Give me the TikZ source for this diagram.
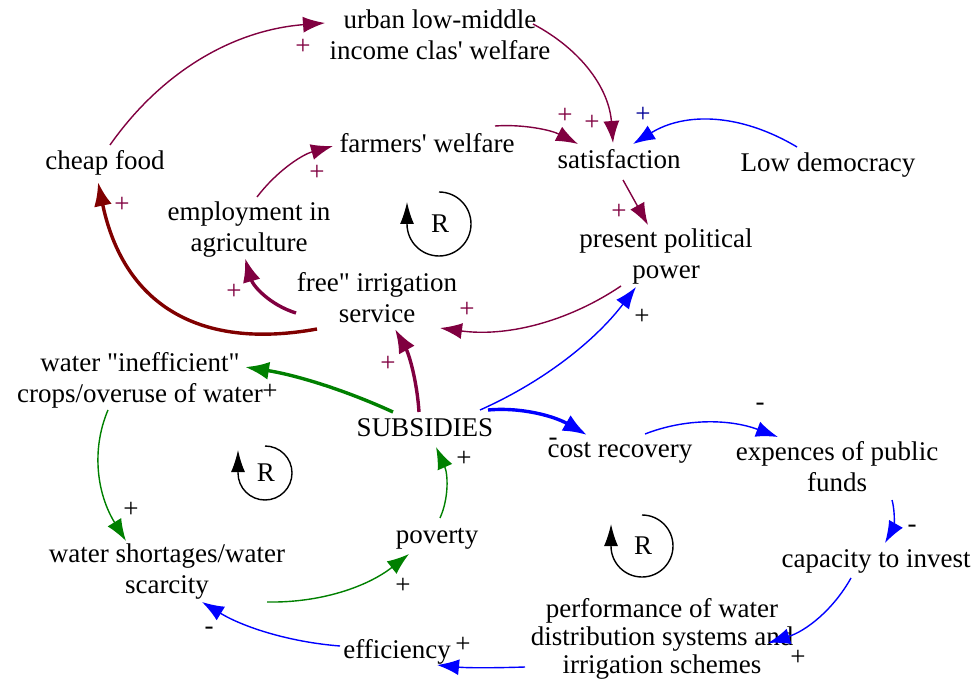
\documentclass[tikz,border=0pt]{standalone}
\usepackage{fontspec}
\setmainfont{Liberation Serif}
\usetikzlibrary{arrows.meta}
\definecolor{plum}{RGB}{128,0,64}
\definecolor{brick}{RGB}{128,0,0}
\definecolor{leaf}{RGB}{0,128,0}
\definecolor{sky}{RGB}{0,0,255}
\definecolor{navy}{RGB}{0,0,150}
\tikzset{>={Latex[length=11pt,width=8pt]}}

\begin{document}
\begin{tikzpicture}[x=0.5pt, y=-0.5pt,
    every node/.style={font=\fontsize{13.5}{15.5}\selectfont, inner sep=0pt},
    var/.style={anchor=base, align=center},
    link/.style={->, line width=0.7pt},
    heavy/.style={-{Latex[length=12pt,width=9pt]}, line width=1.7pt},
    loopar/.style={-{Latex[length=11pt,width=7pt]}, line width=0.7pt}]
    \useasboundingbox (0,0) rectangle (973,683);
    % variables (base = last line)
    \node[var] (urban) at (440,60) {urban low-middle\\income clas\textquotesingle{} welfare};
    \node[var] (cheap) at (105,170) {cheap food};
    \node[var] (farmers) at (427,153) {farmers\textquotesingle{} welfare};
    \node[var] (satis) at (619,169) {satisfaction};
    \node[var] (lowdem) at (828,172) {Low democracy};
    \node[var] (employ) at (249,252) {employment in\\agriculture};
    \node[var] (power) at (666,279) {present political\\power};
    \node[var] (free) at (377,323) {free\textquotedbl{} irrigation\\service};
    \node[var] (ineff) at (140,403) {water \textquotedbl{}inefficient\textquotedbl\\crops/overuse of water};
    \node[var] (subs) at (425,437) {SUBSIDIES};
    \node[var] (cost) at (620,458) {cost recovery};
    \node[var] (expences) at (837,491) {expences of public\\funds};
    \node[var] (shortage) at (167,593) {water shortages/water\\scarcity};
    \node[var] (poverty) at (437,543) {poverty};
    \node[var] (capacity) at (876,567) {capacity to invest};
    \node[var, font=\fontsize{13.5}{14}\selectfont] (perform) at (662,673) {performance of water\\distribution systems and\\irrigation schemes};
    \node[var] (effic) at (397,658) {efficiency};
    % loop markers
    \node (loop-up) at (440,224) {R};
    \node (loop-left) at (266,473) {R};
    \node (loop-right) at (643,546) {R};
    \draw[loopar] ([shift={(-1,-32)}]loop-up.center) arc[start angle=-90, end angle=180, radius=32] -- ++(0,-22);
    \draw[loopar] ([shift={(-1,-27)}]loop-left.center) arc[start angle=-90, end angle=180, radius=27] -- ++(0,-23);
    \draw[loopar] ([shift={(-1,-31)}]loop-right.center) arc[start angle=-90, end angle=180, radius=31] -- ++(0,-22);
    % upper loop
    \draw[link, plum] ([shift={(5,-25)}]cheap.base) .. controls +(52,-74) and +(-91,7) .. ([shift={(-115,-37)}]urban.base);
    \draw[link, plum] ([shift={(93,-36)}]urban.base) .. controls +(49,26) and +(-4,-54) .. ([shift={(-6,-26)}]satis.base);
    \draw[link, plum] ([shift={(68,-27)}]farmers.base) .. controls +(28,-2) and +(-27,-14) .. ([shift={(-41,-25)}]satis.base);
    \draw[link, sky] ([shift={(-31,-25)}]lowdem.base) .. controls +(-57,-34) and +(52,-32) .. ([shift={(14,-25)}]satis.base);
    \draw[link, plum] ([shift={(4,11)}]satis.base) -- ([shift={(-18,-54)}]power.base);
    \draw[link, plum] ([shift={(-45,7)}]power.base) .. controls +(-55,37) and +(65,9) .. ([shift={(63,5)}]free.base);
    \draw[link, plum] ([shift={(8,-55)}]employ.base) .. controls +(19,-25) and +(-32,9) .. ([shift={(-94,-7)}]farmers.base);
    \draw[heavy, plum] ([shift={(-81,-10)}]free.base) .. controls +(-26,-8) and +(8,28) .. ([shift={(-4,6)}]employ.base);
    \draw[heavy, brick] ([shift={(-60,6)}]free.base) .. controls +(-121,22) and +(25,120) .. ([shift={(-7,12)}]cheap.base);
    \draw[heavy, plum] ([shift={(-6,-25)}]subs.base) .. controls +(-2,-31) and +(14,25) .. ([shift={(18,6)}]free.base);
    % left loop
    \draw[heavy, leaf] ([shift={(-32,-25)}]subs.base) .. controls +(-48,-22) and +(51,8) .. ([shift={(105,-36)}]ineff.base);
    \draw[link, leaf] ([shift={(-32,7)}]ineff.base) .. controls +(-17,40) and +(-29,-47) .. ([shift={(-41,-52)}]shortage.base);
    \draw[link, leaf] ([shift={(100,9)}]shortage.base) .. controls +(53,1) and +(-42,33) .. ([shift={(-28,11)}]poverty.base);
    \draw[link, leaf] ([shift={(3,-25)}]poverty.base) .. controls +(9,-20) and +(12,27) .. ([shift={(11,10)}]subs.base);
    % right loop
    \draw[link, sky] ([shift={(55,-27)}]subs.base) .. controls +(63,-28) and +(-41,54) .. ([shift={(-30,8)}]power.base);
    \draw[heavy, sky] ([shift={(63,-27)}]subs.base) .. controls +(33,-3) and +(-33,-19) .. ([shift={(-33,-23)}]cost.base);
    \draw[link, sky] ([shift={(25,-24)}]cost.base) .. controls +(41,-16) and +(-48,-18) .. ([shift={(-59,-54)}]expences.base);
    \draw[link, sky] ([shift={(55,9)}]expences.base) .. controls +(4,15) and +(8,-14) .. ([shift={(9,-24)}]capacity.base);
    \draw[link, sky] ([shift={(-25,11)}]capacity.base) .. controls +(-18,32) and +(38,-12) .. ([shift={(106,-30)}]perform.base);
    \draw[link, sky] ([shift={(-137,-6)}]perform.base) .. controls +(-30,1) and +(30,3) .. ([shift={(40,7)}]effic.base);
    \draw[link, sky] ([shift={(-57,-12)}]effic.base) .. controls +(-51,-4) and +(41,25) .. ([shift={(35,9)}]shortage.base);
    % polarities
    \node[plum] (sign-1) at (303,47) {+};
    \node[plum] (sign-2) at (592,123) {+};
    \node[plum] (sign-3) at (565,116) {+};
    \node[navy] (sign-4) at (643,115) {+};
    \node[plum] (sign-5) at (619,212) {+};
    \node[plum] (sign-6) at (467,310) {+};
    \node[plum] (sign-7) at (317,173) {+};
    \node[plum] (sign-8) at (234,292) {+};
    \node[plum] (sign-9) at (122,205) {+};
    \node[plum] (sign-10) at (388,364) {+};
    \node (sign-11) at (270,392) {+};
    \node (sign-12) at (642,317) {+};
    \node (sign-13) at (553,442) {-};
    \node (sign-14) at (760,407) {-};
    \node (sign-15) at (912,529) {-};
    \node (sign-16) at (798,658) {+};
    \node (sign-17) at (463,645) {+};
    \node (sign-18) at (209,631) {-};
    \node (sign-19) at (131,510) {+};
    \node (sign-20) at (403,586) {+};
    \node (sign-21) at (464,459) {+};
\end{tikzpicture}
\end{document}
